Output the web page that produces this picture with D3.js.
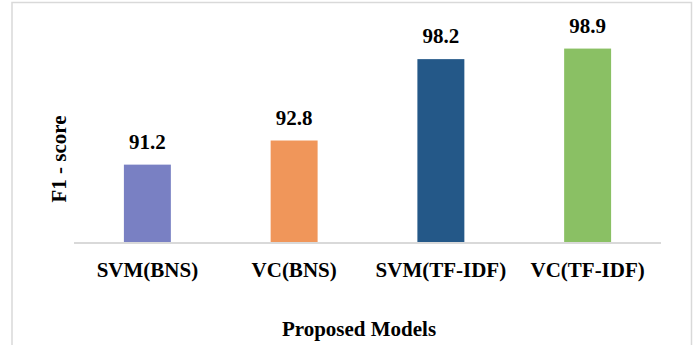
<!DOCTYPE html>
<html>
<head>
<meta charset="utf-8">
<script src="https://cdn.jsdelivr.net/npm/d3@7"></script>
<style>
  html, body { margin: 0; padding: 0; background: #fff; }
  svg { display: block; }
</style>
</head>
<body>
<div id="chart"></div>
<script>
// F1-score of each proposed model
const models = ["SVM(BNS)", "VC(BNS)", "SVM(TF-IDF)", "VC(TF-IDF)"];
const f1Scores = [91.2, 92.8, 98.2, 98.9];
const barColors = ["#7980C3", "#F0965A", "#245888", "#8AC064"];
const yDomain = [86, 100];

const width = 698, height = 345;
const plot = { left: 74, right: 661, top: 32, bottom: 243 };
const FONT = "Liberation Serif";

const svg = d3.select("#chart").append("svg")
  .attr("width", width).attr("height", height);

// outer chart frame
svg.append("rect")
  .attr("x", 12).attr("y", 2.5)
  .attr("width", 679.5).attr("height", height + 10)
  .attr("fill", "#fff").attr("stroke", "#d9d9d9").attr("stroke-width", 1.5);

const x = d3.scaleBand().domain(models).range([plot.left, plot.right]).paddingInner(0.68).paddingOuter(0.34);
const y = d3.scaleLinear().domain(yDomain).range([plot.bottom, plot.top]);

const data = models.map((m, i) => ({ model: m, value: f1Scores[i], color: barColors[i] }));

svg.append("g").selectAll("rect").data(data).join("rect")
  .attr("x", d => x(d.model))
  .attr("y", d => y(d.value))
  .attr("width", x.bandwidth())
  .attr("height", d => y(yDomain[0]) - y(d.value))
  .attr("fill", d => d.color);

function styleText(sel) {
  sel.attr("font-family", FONT)
    .attr("font-weight", "bold")
    .attr("font-size", 21)
    .attr("fill", "#000");
}

// value labels
svg.append("g").selectAll("text").data(data).join("text")
  .attr("x", d => x(d.model) + x.bandwidth() / 2)
  .attr("y", d => y(d.value) - 16)
  .attr("text-anchor", "middle")
  .call(styleText)
  .text(d => d.value.toFixed(1));

// category axis
const xAxis = d3.axisBottom(x).tickSize(0).tickPadding(0);
const gx = svg.append("g").attr("transform", `translate(0,${plot.bottom})`).call(xAxis);
gx.attr("font-family", FONT).attr("font-size", 21);
gx.select(".domain").attr("stroke", "#d9d9d9").attr("stroke-width", 2)
  .attr("d", `M${plot.left},0H${plot.right}`);
gx.selectAll(".tick text")
  .call(styleText)
  .attr("dy", 0)
  .attr("y", 33.5);

// axis titles
svg.append("text")
  .attr("x", 359).attr("y", 335.5)
  .attr("text-anchor", "middle")
  .call(styleText)
  .text("Proposed Models");

svg.append("text")
  .attr("transform", "translate(65.5,159) rotate(-90)")
  .attr("text-anchor", "middle")
  .call(styleText)
  .text("F1 - score");
</script>
</body>
</html>
